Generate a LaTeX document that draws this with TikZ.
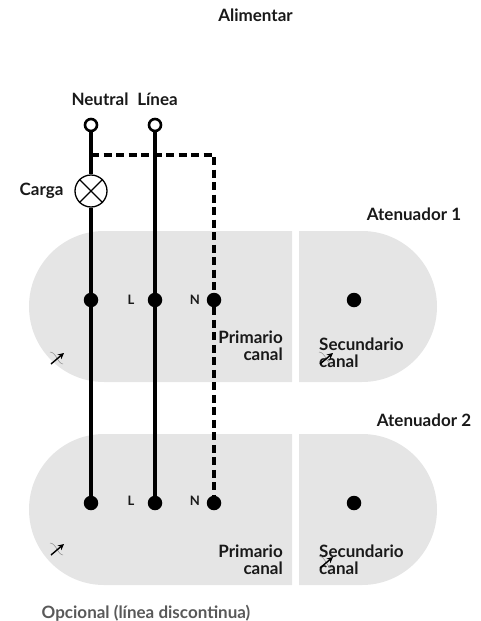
\documentclass[tikz,border=0pt]{standalone}
\usepackage{fontspec}
\setmainfont{Lato}
\usepackage{amsmath}
\usetikzlibrary{arrows.meta}
\tikzset{
    x=1pt, y=-1pt,
    label/.style={font=\bfseries\fontsize{17}{17}\selectfont, text=black!90, inner sep=0pt},
    small/.style={font=\bfseries\fontsize{13}{13}\selectfont, text=black!90, inner sep=0pt},
    term/.style={draw, circle, line width=2.6pt, fill=white, minimum size=12pt, inner sep=0pt},
    dot/.style={circle, fill=black, minimum size=14.5pt, inner sep=0pt},
    lamp/.style={draw, circle, line width=1.3pt, minimum size=32pt, inner sep=0pt},
    wire/.style={line width=3.6pt},
    optwire/.style={line width=3.2pt, dash pattern=on 8pt off 4.5pt},
    panel/.style={fill=black!10}
}
\newcommand{\icon}[2]{
    \draw[black!45, line width=0.5pt] (#1-7,#2-6) .. controls (#1-1,#2-6) and (#1+1,#2+6) .. (#1+6,#2+6);
    \draw[-{Stealth[length=6pt,width=6pt]}, line width=1.4pt] (#1-6,#2+6) -- (#1+7,#2-5);
}
\begin{document}
\begin{tikzpicture}
    \useasboundingbox (0,0) rectangle (481,621);
    % dimmer panels
    \fill[panel] (292,231) -- (104,231) arc[start angle=90, end angle=270, x radius=75, y radius=-75.5] -- (292,382) -- cycle;
    \fill[panel] (299,231) -- (362,231) arc[start angle=90, end angle=-90, x radius=75, y radius=-75.5] -- (299,382) -- cycle;
    \fill[panel] (292,434) -- (104,434) arc[start angle=90, end angle=270, x radius=75, y radius=-75.5] -- (292,585) -- cycle;
    \fill[panel] (299,434) -- (362,434) arc[start angle=90, end angle=-90, x radius=75, y radius=-75.5] -- (299,585) -- cycle;
    % terminals and lamp
    \node[term] (neutral) at (91,125) {};
    \node[term] (linea) at (155,125) {};
    \node[lamp] (carga) at (91,191) {};
    \node[dot] (a1) at (91,300) {};
    \node[dot] (b1) at (155,300) {};
    \node[dot] (c1) at (214,300) {};
    \node[dot] (d1) at (354,300) {};
    \node[dot] (a2) at (91,503) {};
    \node[dot] (b2) at (155,503) {};
    \node[dot] (c2) at (214,503) {};
    \node[dot] (d2) at (354,503) {};
    \coordinate (tee) at (91,155);
    \coordinate (corner) at (214,155);
    % wires
    \draw[wire] (neutral) -- (carga);
    \draw[wire] (carga) -- (a1);
    \draw[wire] (a1) -- (a2);
    \draw[wire] (linea) -- (b1);
    \draw[wire] (b1) -- (b2);
    \draw[optwire] (tee) -- (corner) -- (c1);
    \draw[optwire] (c1) -- (c2);
    \draw[line width=1.3pt] (carga.45) -- (carga.225) (carga.135) -- (carga.315);
    % labels
    \node[label] (alimentar) at (255.5,15) {Alimentar};
    \node[label] (lneutral) at (100,99) {Neutral};
    \node[label] (llinea) at (157.5,99) {Línea};
    \node[label] (lcarga) at (41.5,191) {Carga};
    \node[label] (aten1) at (414,214) {Atenuador 1};
    \node[label] (aten2) at (424,420) {Atenuador 2};
    \node[small] (l1) at (131,300) {L};
    \node[small] (n1) at (195,300) {N};
    \node[small] (l2) at (131,501) {L};
    \node[small] (n2) at (195,501) {N};
    \node[label, align=right, anchor=east] (prim1) at (283,346) {Primario\\canal};
    \node[label, align=left, anchor=west] (sec1) at (319,353) {Secundario\\canal};
    \node[label, align=right, anchor=east] (prim2) at (283,560) {Primario\\canal};
    \node[label, align=left, anchor=west] (sec2) at (319,560) {Secundario\\canal};
    \node[label, text=black!65] (opcional) at (146,613) {Opcional (línea discontinua)};
    % dimming icons
    \icon{57}{358}
    \icon{326}{358}
    \icon{57}{549}
    \icon{326}{562}
\end{tikzpicture}
\end{document}
